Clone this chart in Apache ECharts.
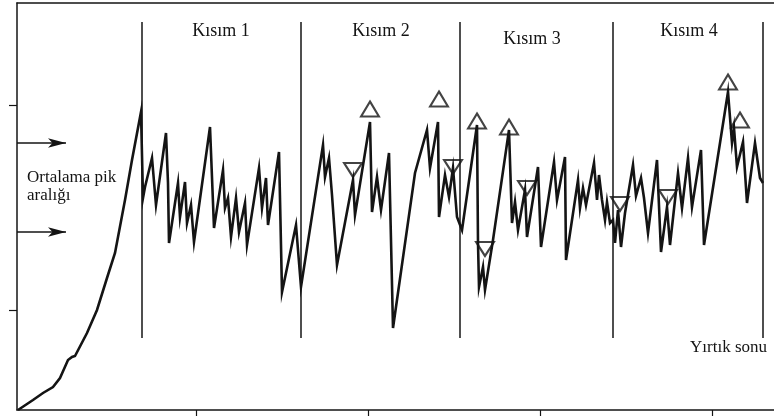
<!DOCTYPE html>
<html>
<head>
<meta charset="utf-8">
<script src="https://cdn.jsdelivr.net/npm/echarts@6/dist/echarts.min.js"></script>
<style>html,body{margin:0;padding:0;background:#fff}#c{width:774px;height:417px}</style>
</head>
<body>
<div id="c"></div>
<script>
// Tear curve: displacement (x) and force (y), arbitrary units
const tearX = [1,16,26,36,43,51,55,58,70,80,90,98,108,115,124,
  126,128,135,139,149,151,152,161,163,168,170,174,177,193,197,206,208,211,214,219,222,228,230,242,245,249,251,262,265,279,284,
  306,308,312,315,320,336,338,353,355,360,364,372,376,398,410,413,421,422,428,432,436,440,445,
  460,461,462,466,468,476,492,495,498,501,508,510,521,524,537,540,548,549,561,563,566,569,577,580,582,585,
  588,590,593,596,598,601,604,608,616,619,624,627,631,640,644,650,653,661,665,671,675,684,687,711,715,717,720,726,730,738,743,746];
const tearForce = [0,10,17,23,32,50,53,54,77,100,132,157,210,250,298,
  212,223,252,205,277,227,167,227,193,228,187,205,168,283,182,240,202,212,173,212,178,207,165,242,202,232,185,258,118,185,123,
  265,233,252,215,145,230,195,288,198,233,200,257,82,237,280,242,288,193,235,213,242,193,180,
  285,167,123,143,120,170,280,187,208,180,220,173,243,163,248,210,253,150,230,202,222,205,247,210,235,210,
  190,208,187,190,167,200,163,197,245,214,232,212,177,250,158,203,165,237,202,252,203,260,165,318,267,282,243,268,207,267,232,227];

// Marked peaks (up triangles) and troughs (down triangles)
const peakUpX = [353,422,460,492,711,723];
const peakUpY = [301,311,289,283,328,290];
const peakDownX = [336,436,468,510,603,651];
const peakDownY = [240,243,161,222,206,213];

// Section boundaries and labels
const sectionBounds = [125,284,443,596,746];
const sectionLabels = ['Kısım 1','Kısım 2','Kısım 3','Kısım 4'];
const sectionLineRange = [72,388];
const avgPeakBand = [178,267];   // "Ortalama pik aralığı" arrows
const arrowLen = [0,49];
const xTicks = [179,351,523,695];
const yTicks = [100,305];

const curve = tearX.map((x,i)=>[x,tearForce[i]]);
const ups = peakUpX.map((x,i)=>[x,peakUpY[i]]);
const downs = peakDownX.map((x,i)=>[x,peakDownY[i]]);

const ink = '#141414';
const chart = echarts.init(document.getElementById('c'), null, {renderer:'canvas'});
chart.setOption({
  animation:false,
  backgroundColor:'#fff',
  grid:{left:17,right:0,top:3,bottom:7},
  xAxis:[{
    type:'value',min:0,max:757,
    axisLine:{show:true,lineStyle:{color:ink,width:1.5}},
    axisTick:{show:true,inside:false,length:6,customValues:xTicks,lineStyle:{color:ink,width:1.2}},
    axisLabel:{show:false},splitLine:{show:false}
  },{
    type:'value',min:0,max:757,position:'top',
    axisLine:{show:true,onZero:false,lineStyle:{color:ink,width:1.5}},
    axisTick:{show:false},axisLabel:{show:false},splitLine:{show:false}
  }],
  yAxis:{
    type:'value',min:0,max:407,
    axisLine:{show:true,lineStyle:{color:ink,width:1.5}},
    axisTick:{show:true,inside:false,length:8,customValues:yTicks,lineStyle:{color:ink,width:1.2}},
    axisLabel:{show:false},splitLine:{show:false}
  },
  series:[
    {
      type:'line',data:curve,symbol:'none',
      lineStyle:{color:ink,width:2.6,join:'miter'},
      z:3,
      markLine:{
        silent:true,symbol:['none','none'],label:{show:false},
        lineStyle:{color:ink,width:1.5,type:'solid'},
        data:sectionBounds.map(b=>[{coord:[b,sectionLineRange[0]]},{coord:[b,sectionLineRange[1]]}])
      }
    },
    {
      type:'line',data:[],symbol:'none',
      markLine:{
        silent:true,symbol:['none','arrow'],symbolSize:[7,18],label:{show:false},
        lineStyle:{color:ink,width:1.5,type:'solid'},
        data:avgPeakBand.map(v=>[{coord:[arrowLen[0],v]},{coord:[arrowLen[1],v]}])
      }
    },
    {
      type:'scatter',data:ups,symbol:'triangle',symbolSize:[18,15],z:5,
      itemStyle:{color:'rgba(0,0,0,0)',borderColor:ink,borderWidth:2}
    },
    {
      type:'scatter',data:downs,symbol:'triangle',symbolRotate:180,symbolSize:[18,14],z:5,
      itemStyle:{color:'rgba(0,0,0,0)',borderColor:ink,borderWidth:2}
    }
  ],
  graphic:[
    {type:'text',x:221,y:31,style:{text:sectionLabels[0],font:'18px "Liberation Serif"',fill:ink,align:'center',verticalAlign:'middle'}},
    {type:'text',x:381,y:31,style:{text:sectionLabels[1],font:'18px "Liberation Serif"',fill:ink,align:'center',verticalAlign:'middle'}},
    {type:'text',x:532,y:39,style:{text:sectionLabels[2],font:'18px "Liberation Serif"',fill:ink,align:'center',verticalAlign:'middle'}},
    {type:'text',x:689,y:31,style:{text:sectionLabels[3],font:'18px "Liberation Serif"',fill:ink,align:'center',verticalAlign:'middle'}},
    {type:'text',x:27,y:178,style:{text:'Ortalama pik',font:'17px "Liberation Serif"',fill:ink,align:'left',verticalAlign:'middle'}},
    {type:'text',x:27,y:196,style:{text:'aralığı',font:'17px "Liberation Serif"',fill:ink,align:'left',verticalAlign:'middle'}},
    {type:'text',x:767,y:348,style:{text:'Yırtık sonu',font:'17px "Liberation Serif"',fill:ink,align:'right',verticalAlign:'middle'}}
  ]
});
</script>
</body>
</html>
